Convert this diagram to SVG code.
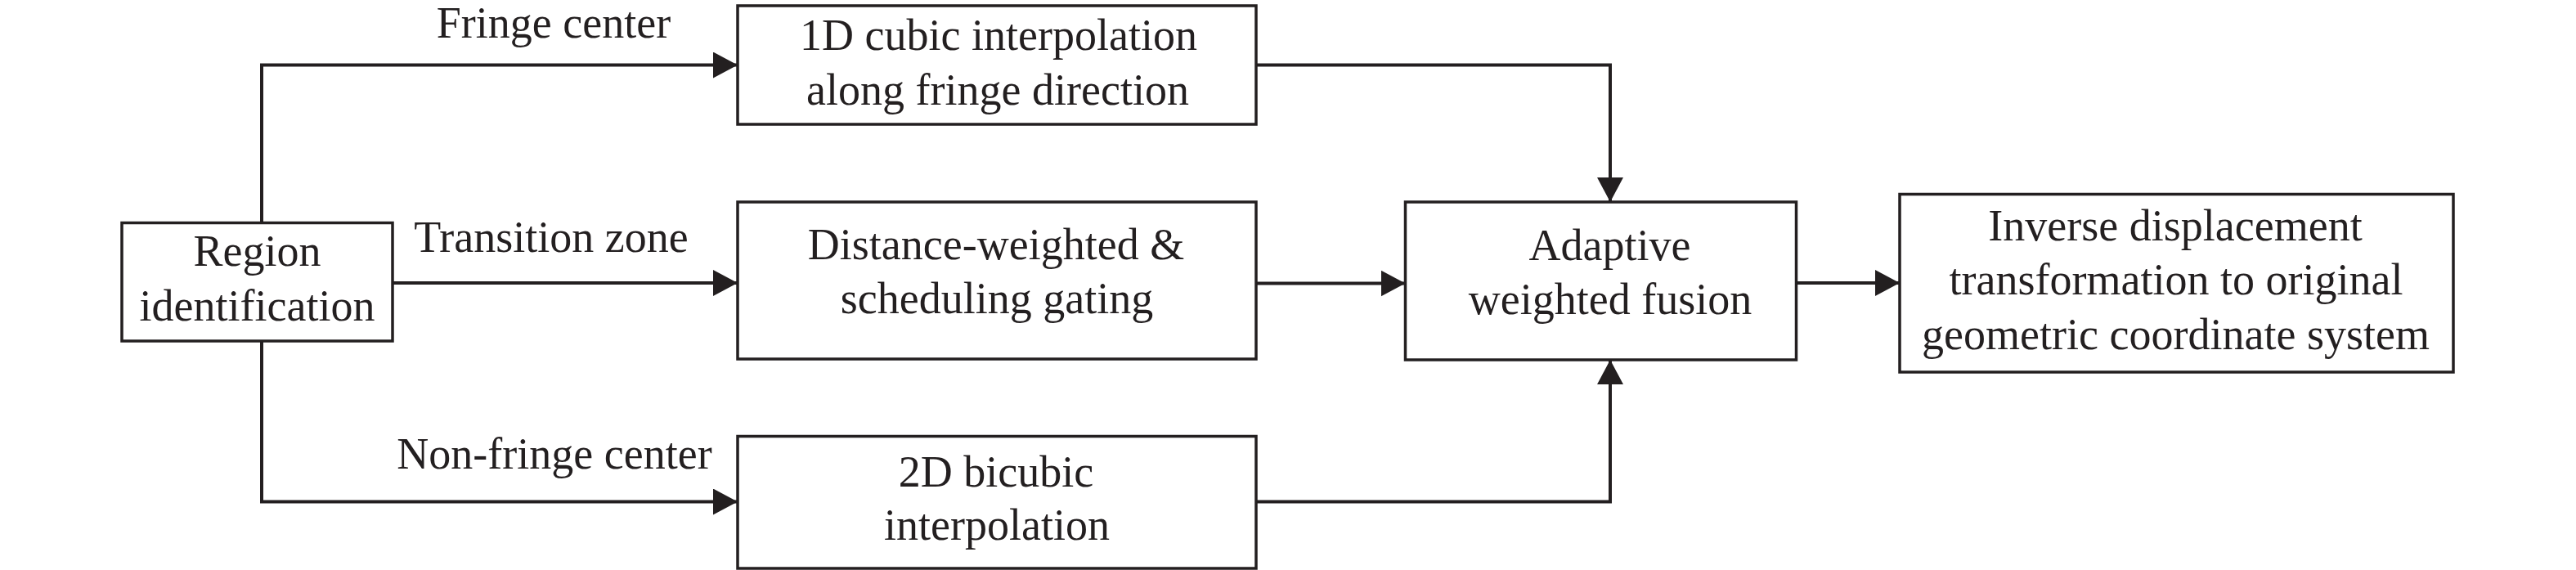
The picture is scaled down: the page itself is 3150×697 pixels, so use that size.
<svg xmlns="http://www.w3.org/2000/svg" width="3150" height="697" viewBox="0 0 3150 697">
<style>
.box{fill:#fff;stroke:#231f20;stroke-width:3.5}
.conn{fill:none;stroke:#231f20;stroke-width:4}
text{font-family:"Liberation Serif","Times New Roman",serif;font-size:54px;fill:#231f20;text-anchor:middle}
</style>
<defs>
<marker id="arr" markerUnits="userSpaceOnUse" markerWidth="32" markerHeight="34" refX="30" refY="16" orient="auto">
<path d="M0,0 L30,16 L0,32 z" fill="#231f20"/>
</marker>
</defs>
<rect width="3150" height="697" fill="#fff"/>
<g id="connectors">
<path class="conn" d="M320,272 V79.5 H902" marker-end="url(#arr)"/>
<path class="conn" d="M480,346 H902" marker-end="url(#arr)"/>
<path class="conn" d="M320,417 V613.5 H902" marker-end="url(#arr)"/>
<path class="conn" d="M1536,79.5 H1969 V247" marker-end="url(#arr)"/>
<path class="conn" d="M1536,346.5 H1718.5" marker-end="url(#arr)"/>
<path class="conn" d="M1536,613.5 H1969 V440" marker-end="url(#arr)"/>
<path class="conn" d="M2197,346 H2323" marker-end="url(#arr)"/>
<text x="677" y="46">Fringe center</text>
<text x="674" y="308">Transition zone</text>
<text x="678" y="573">Non-fringe center</text>
</g>
<g id="region">
<rect class="box" x="149" y="272.5" width="331" height="144.5"/>
<text x="314.5" y="325">Region</text>
<text x="314.5" y="391.5">identification</text>
</g>
<g id="cubic1d">
<rect class="box" x="902" y="7" width="634" height="145"/>
<text x="1221" y="60.5">1D cubic interpolation</text>
<text x="1220" y="128">along fringe direction</text>
</g>
<g id="distance">
<rect class="box" x="902" y="247" width="634" height="192"/>
<text x="1218" y="316.5">Distance-weighted &amp;</text>
<text x="1219" y="383">scheduling gating</text>
</g>
<g id="bicubic2d">
<rect class="box" x="902" y="533.5" width="634" height="161.5"/>
<text x="1218" y="595">2D bicubic</text>
<text x="1219" y="660">interpolation</text>
</g>
<g id="fusion">
<rect class="box" x="1718.5" y="247" width="478" height="193"/>
<text x="1968.5" y="317.5">Adaptive</text>
<text x="1969" y="383.5">weighted fusion</text>
</g>
<g id="inverse">
<rect class="box" x="2323" y="237.5" width="677" height="217.5"/>
<text x="2660" y="293.5">Inverse displacement</text>
<text x="2661" y="360">transformation to original</text>
<text x="2660.5" y="426.5">geometric coordinate system</text>
</g>
</svg>
